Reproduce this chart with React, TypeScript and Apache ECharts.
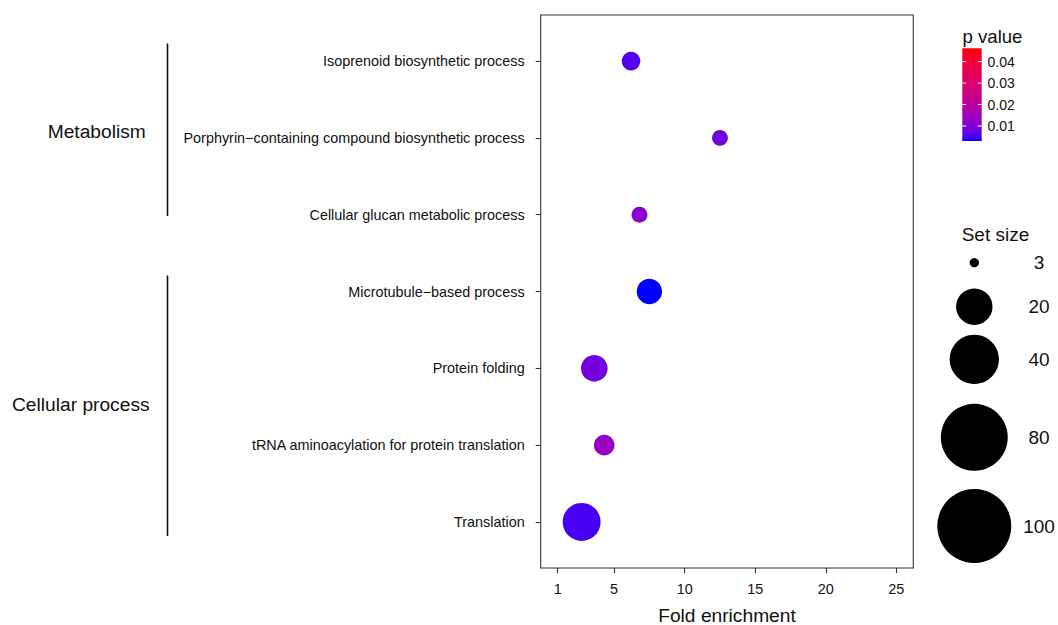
import React, { useEffect, useRef } from "react";
import * as echarts from "echarts";

// ---------- data ----------
const categories = [
  "Isoprenoid biosynthetic process",
  "Porphyrin\u2212containing compound biosynthetic process",
  "Cellular glucan metabolic process",
  "Microtubule\u2212based process",
  "Protein folding",
  "tRNA aminoacylation for protein translation",
  "Translation",
];
const foldEnrichment = [6.2, 12.5, 6.8, 7.5, 3.6, 4.3, 2.7];
const pValues = [0.0058, 0.0082, 0.0112, 0.003, 0.0086, 0.0138, 0.005];
const setSizes = [5, 4, 4, 9, 10, 6, 22];

const xTicks = [1, 5, 10, 15, 20, 25];
const pTicks = [0.01, 0.02, 0.03, 0.04];
const pLimits = [0.003, 0.0462];
const sizeBreaks = [3, 20, 40, 80, 100];

const groupNames = ["Metabolism", "Cellular process"];

// ---------- helpers ----------
const FONT = "'Liberation Sans', Arial, sans-serif";
const sizeMin = Math.min(...sizeBreaks);
const sizeMax = Math.max(...sizeBreaks);
const sizeFn = (s: number) => 9.3 + 64.7 * Math.sqrt(Math.max(0, s - sizeMin) / (sizeMax - sizeMin));

function toLin(c: number) {
  c /= 255;
  return c <= 0.04045 ? c / 12.92 : Math.pow((c + 0.055) / 1.055, 2.4);
}
function fromLin(c: number) {
  c = Math.max(0, Math.min(1, c));
  const v = c <= 0.0031308 ? 12.92 * c : 1.055 * Math.pow(c, 1 / 2.4) - 0.055;
  return Math.round(v * 255);
}
const Xn = 0.95047, Yn = 1, Zn = 1.08883;
function rgbToLab(r: number, g: number, b: number) {
  const R = toLin(r), G = toLin(g), B = toLin(b);
  const X = (0.4124 * R + 0.3576 * G + 0.1805 * B) / Xn;
  const Y = (0.2126 * R + 0.7152 * G + 0.0722 * B) / Yn;
  const Z = (0.0193 * R + 0.1192 * G + 0.9505 * B) / Zn;
  const f = (t: number) => (t > 0.008856 ? Math.cbrt(t) : 7.787 * t + 16 / 116);
  const fx = f(X), fy = f(Y), fz = f(Z);
  return [116 * fy - 16, 500 * (fx - fy), 200 * (fy - fz)];
}
function labToRgb(L: number, a: number, b: number) {
  const fy = (L + 16) / 116, fx = fy + a / 500, fz = fy - b / 200;
  const finv = (t: number) => (t * t * t > 0.008856 ? t * t * t : (t - 16 / 116) / 7.787);
  const X = finv(fx) * Xn, Y = finv(fy) * Yn, Z = finv(fz) * Zn;
  const R = 3.2406 * X - 1.5372 * Y - 0.4986 * Z;
  const G = -0.9689 * X + 1.8758 * Y + 0.0415 * Z;
  const B = 0.0557 * X - 0.204 * Y + 1.057 * Z;
  const h = (v: number) => fromLin(v).toString(16).padStart(2, "0");
  return "#" + h(R) + h(G) + h(B);
}
const lowLab = rgbToLab(0, 0, 255);
const highLab = rgbToLab(255, 0, 0);
const NSTOP = 25;
const rampColors: string[] = [];
for (let i = 0; i < NSTOP; i++) {
  const t = i / (NSTOP - 1);
  rampColors.push(
    labToRgb(
      lowLab[0] + (highLab[0] - lowLab[0]) * t,
      lowLab[1] + (highLab[1] - lowLab[1]) * t,
      lowLab[2] + (highLab[2] - lowLab[2]) * t
    )
  );
}

export default function App() {
  const ref = useRef<HTMLDivElement>(null);
  useEffect(() => {
    if (!ref.current) return;
    const chart = echarts.init(ref.current, null, { renderer: "svg", width: 1058, height: 625 });

    const data = categories.map((c, i) => [foldEnrichment[i], i, pValues[i], setSizes[i]]);

    // colour bar geometry
    const cbX = 962.3, cbTop = 48.3, cbW = 19.4, cbH = 92.7;
    const cbY = (v: number) => cbTop + cbH - ((v - pLimits[0]) / (pLimits[1] - pLimits[0])) * cbH;

    const legendCy = [262.7, 306.7, 359.3, 437.3, 526];
    const legendCx = 974.3;

    const graphic: any[] = [];
    // group brackets
    const brackets = [
      { y1: 43.5, y2: 216, ty: 131, tx: 47.7 },
      { y1: 275.5, y2: 536, ty: 404, tx: 12 },
    ];
    brackets.forEach((b, i) => {
      graphic.push({
        type: "line",
        shape: { x1: 167.5, y1: b.y1, x2: 167.5, y2: b.y2 },
        style: { stroke: "#111", lineWidth: 1.6 },
      });
      graphic.push({
        type: "text",
        style: {
          text: groupNames[i], x: b.tx, y: b.ty, fill: "#111",
          fontSize: 19.2, fontFamily: FONT,
          align: "left", verticalAlign: "middle", textAlign: "left", textVerticalAlign: "middle",
        },
      });
    });
    // colour bar
    graphic.push({
      type: "text",
      style: {
        text: "p value", x: 962.5, y: 36.4, fill: "#111", fontSize: 18.6, fontFamily: FONT,
        align: "left", verticalAlign: "middle", textAlign: "left", textVerticalAlign: "middle",
      },
    });
    graphic.push({
      type: "rect",
      shape: { x: cbX, y: cbTop, width: cbW, height: cbH },
      style: {
        fill: new echarts.graphic.LinearGradient(
          0, 1, 0, 0,
          rampColors.map((c, i) => ({ offset: i / (rampColors.length - 1), color: c }))
        ),
      },
    });
    pTicks.forEach((v) => {
      const y = cbY(v);
      graphic.push({ type: "line", shape: { x1: cbX, y1: y, x2: cbX + 3.8, y2: y }, style: { stroke: "#fff", lineWidth: 1 } });
      graphic.push({ type: "line", shape: { x1: cbX + cbW - 3.8, y1: y, x2: cbX + cbW, y2: y }, style: { stroke: "#fff", lineWidth: 1 } });
      graphic.push({
        type: "text",
        style: {
          text: v.toFixed(2), x: 987.5, y, fill: "#111", fontSize: 14, fontFamily: FONT,
          align: "left", verticalAlign: "middle", textAlign: "left", textVerticalAlign: "middle",
        },
      });
    });
    // size legend
    graphic.push({
      type: "text",
      style: {
        text: "Set size", x: 961.7, y: 234, fill: "#111", fontSize: 19, fontFamily: FONT,
        align: "left", verticalAlign: "middle", textAlign: "left", textVerticalAlign: "middle",
      },
    });
    sizeBreaks.forEach((s, i) => {
      graphic.push({
        type: "circle",
        shape: { cx: legendCx, cy: legendCy[i], r: sizeFn(s) / 2 },
        style: { fill: "#000" },
      });
      graphic.push({
        type: "text",
        style: {
          text: String(s), x: 1039, y: legendCy[i], fill: "#111", fontSize: 19, fontFamily: FONT,
          align: "center", verticalAlign: "middle", textAlign: "center", textVerticalAlign: "middle",
        },
      });
    });

    chart.setOption({
      animation: false,
      backgroundColor: "#fff",
      textStyle: { fontFamily: FONT },
      grid: {
        left: 540.7, top: 15, right: 1058 - 913.3, bottom: 625 - 568,
        containLabel: false,
        outerBoundsMode: "none",
        show: true, borderColor: "#333", borderWidth: 1.1, backgroundColor: "transparent",
      },
      xAxis: {
        type: "value",
        min: -0.2,
        max: 26.2,
        splitLine: { show: false },
        axisLine: { show: false, onZero: false },
        axisTick: { show: true, length: 5, lineStyle: { color: "#333", width: 1.1 }, customValues: xTicks },
        axisLabel: { color: "#111", fontSize: 14.4, fontFamily: FONT, margin: 14, customValues: xTicks },
        name: "Fold enrichment",
        nameLocation: "middle",
        nameGap: 38,
        nameTextStyle: { color: "#111", fontSize: 19.2, fontFamily: FONT },
      },
      yAxis: {
        type: "value",
        min: -0.6,
        max: 6.6,
        inverse: true,
        splitLine: { show: false },
        axisLine: { show: false, onZero: false },
        axisTick: { show: true, length: 5, lineStyle: { color: "#333", width: 1.1 }, customValues: categories.map((_, i) => i) },
        axisLabel: {
          color: "#111", fontSize: 14.4, fontFamily: FONT, margin: 16,
          customValues: categories.map((_, i) => i),
          formatter: (v: number) => categories[Math.round(v)] ?? "",
        },
      },
      visualMap: {
        show: false,
        type: "continuous",
        seriesIndex: 0,
        dimension: 2,
        min: pLimits[0],
        max: pLimits[1],
        inRange: { color: rampColors },
      },
      series: [
        {
          type: "scatter",
          data,
          symbol: "circle",
          symbolSize: (v: number[]) => sizeFn(v[3]),
          itemStyle: { opacity: 1 },
          emphasis: { disabled: true },
        },
      ],
      graphic,
    });
    return () => chart.dispose();
  }, []);
  return (
    <div
      ref={ref}
      style={{ position: "fixed", left: 0, top: 0, width: 1058, height: 625, background: "#fff" }}
    />
  );
}
